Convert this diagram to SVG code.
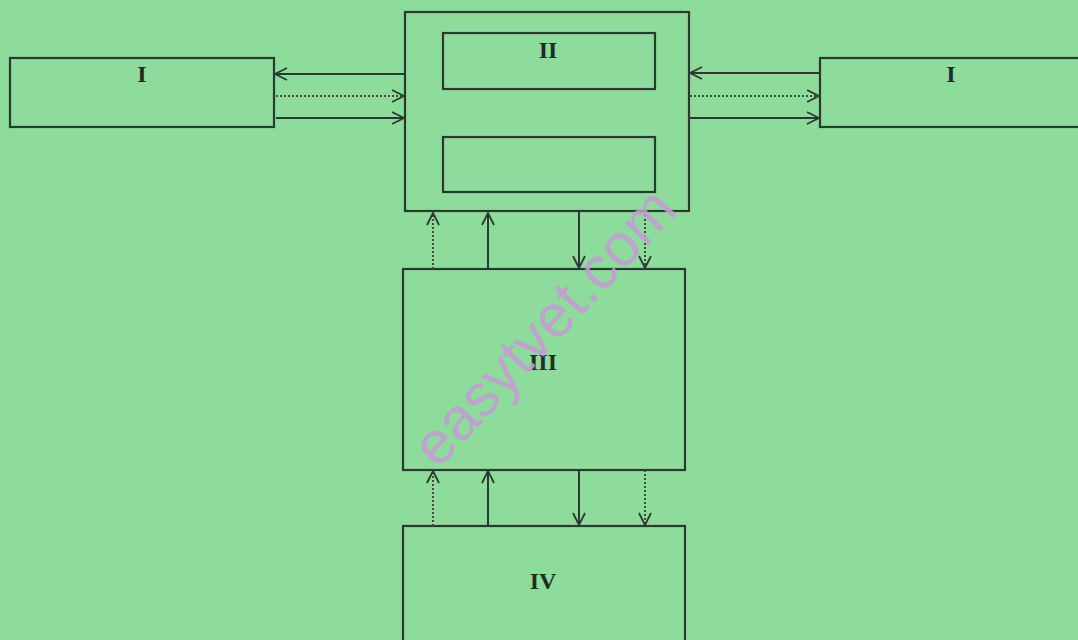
<svg xmlns="http://www.w3.org/2000/svg" width="1078" height="640" viewBox="0 0 1078 640">
<defs>
<marker id="ah" viewBox="0 0 14 14" refX="13" refY="7" markerWidth="14" markerHeight="14" markerUnits="userSpaceOnUse" orient="auto">
<path d="M1,1 L13,7 L1,13" fill="none" stroke="#2b3a2e" stroke-width="1.8"/>
</marker>
</defs>
<style>
.box{fill:none;stroke:#2b3a2e;stroke-width:2.2}
.lbl{font-family:"Liberation Serif",serif;font-weight:bold;font-size:24px;fill:#1f2d22;text-anchor:middle}
.solid{stroke:#2b3a2e;stroke-width:2;fill:none;marker-end:url(#ah)}
.dot{stroke:#4a4a3a;stroke-width:2;stroke-dasharray:2 2;fill:none;marker-end:url(#ah)}
.wm{font-family:"Liberation Sans",sans-serif;font-size:60px;fill:#c89ad8;opacity:0.85}
</style>
<rect x="0" y="0" width="1078" height="640" fill="#8ddc9c"/>
<g id="node-I-left">
<rect class="box" x="10" y="58" width="264" height="69"/>
<text class="lbl" x="142" y="82">I</text>
</g>
<g id="node-I-right">
<rect class="box" x="820" y="58" width="262" height="69"/>
<text class="lbl" x="951" y="82">I</text>
</g>
<g id="node-II">
<rect class="box" x="405" y="12" width="284" height="199"/>
<rect class="box" x="443" y="33" width="212" height="56"/>
<rect class="box" x="443" y="137" width="212" height="55"/>
<text class="lbl" x="548" y="58">II</text>
</g>
<g id="node-III">
<rect class="box" x="403" y="269" width="282" height="201"/>
<text class="lbl" x="543" y="370">III</text>
</g>
<g id="node-IV">
<rect class="box" x="403" y="526" width="282" height="120"/>
<text class="lbl" x="543" y="589">IV</text>
</g>
<g id="connectors">
<line class="solid" x1="405" y1="74" x2="275" y2="74"/>
<line class="dot" x1="276" y1="96" x2="404" y2="96"/>
<line class="solid" x1="276" y1="118" x2="404" y2="118"/>
<line class="solid" x1="820" y1="73" x2="690" y2="73"/>
<line class="dot" x1="690" y1="96" x2="819" y2="96"/>
<line class="solid" x1="690" y1="118" x2="819" y2="118"/>
<line class="dot" x1="433" y1="269" x2="433" y2="213"/>
<line class="solid" x1="488" y1="269" x2="488" y2="213"/>
<line class="solid" x1="579" y1="211" x2="579" y2="268"/>
<line class="dot" x1="645" y1="211" x2="645" y2="268"/>
<line class="dot" x1="433" y1="526" x2="433" y2="471"/>
<line class="solid" x1="488" y1="526" x2="488" y2="471"/>
<line class="solid" x1="579" y1="470" x2="579" y2="525"/>
<line class="dot" x1="645" y1="470" x2="645" y2="525"/>
</g>
<text class="wm" transform="translate(438,470) rotate(-47)">easytvet.com</text>
</svg>
